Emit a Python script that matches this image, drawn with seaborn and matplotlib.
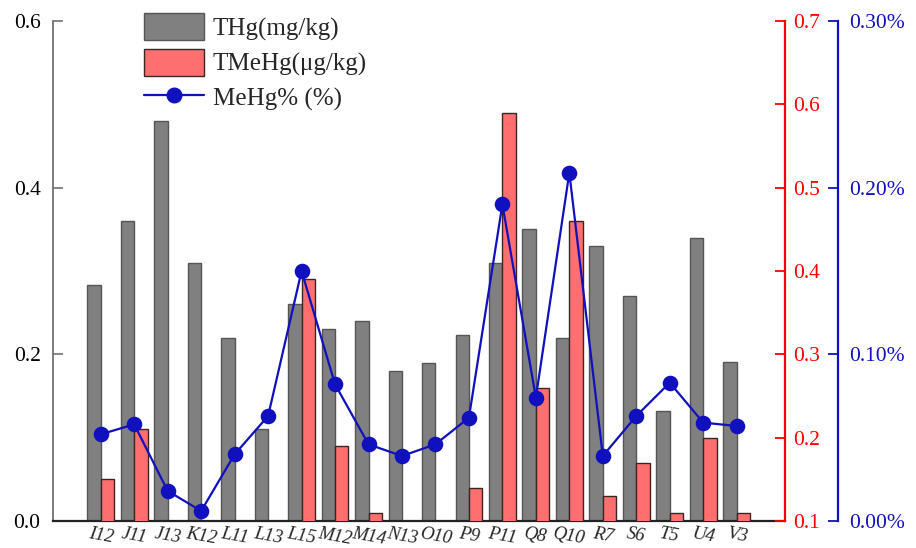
import numpy as np
import pandas as pd
import matplotlib
matplotlib.use("Agg")
import matplotlib.pyplot as plt
from matplotlib.patches import Patch
from matplotlib.lines import Line2D
import seaborn as sns

# Sampling sites
sites = ["I12", "J11", "J13", "K12", "L11", "L13", "L15", "M12", "M14", "N13",
         "O10", "P9", "P11", "Q8", "Q10", "R7", "S6", "T5", "U4", "V3"]
# Total mercury, mg/kg
thg = [0.283, 0.36, 0.48, 0.31, 0.22, 0.11, 0.26, 0.23, 0.24, 0.18,
       0.19, 0.223, 0.31, 0.35, 0.22, 0.33, 0.27, 0.132, 0.34, 0.191]
# Methylmercury, ug/kg (blank where below the axis floor)
tmehg = [0.15, 0.21, np.nan, np.nan, np.nan, np.nan, 0.39, 0.19, 0.11, np.nan,
         np.nan, 0.14, 0.59, 0.26, 0.46, 0.13, 0.17, 0.11, 0.20, 0.11]
# MeHg share of THg, %
mehg_pct = [0.052, 0.058, 0.018, 0.006, 0.040, 0.063, 0.150, 0.082, 0.046, 0.039,
            0.046, 0.062, 0.190, 0.074, 0.209, 0.039, 0.063, 0.083, 0.059, 0.057]

series_order = ["THg", "TMeHg"]
GREY = "#808080"
RED = "#FF6F6F"
BLUE = "#1010BE"

sns.set_theme(style="white")
plt.rcParams["font.family"] = ["Liberation Serif", "DejaVu Serif"]
plt.rcParams["mathtext.fontset"] = "stix"

df_thg = pd.DataFrame({"site": sites, "value": thg, "series": "THg"})
df_me = pd.DataFrame({"site": sites, "value": tmehg, "series": "TMeHg"}).dropna()
df_pct = pd.DataFrame({"site": sites, "value": mehg_pct})

fig = plt.figure(figsize=(9.16, 5.48), dpi=100)
ax1 = fig.add_axes([0.0579, 0.0493, 0.7991, 0.9124])
ax2 = ax1.twinx()
ax3 = ax1.twinx()

pal = {"THg": GREY, "TMeHg": RED}
sns.barplot(data=df_thg, x="site", y="value", hue="series", hue_order=series_order,
            order=sites, palette=pal, width=0.8, dodge=True, legend=False,
            edgecolor="#555555", linewidth=1.0, saturation=1, ax=ax1)
sns.barplot(data=df_me, x="site", y="value", hue="series", hue_order=series_order,
            order=sites, palette=pal, width=0.8, dodge=True, legend=False,
            edgecolor="#3f2424", linewidth=1.0, saturation=1, ax=ax2)
sns.pointplot(data=df_pct, x="site", y="value", order=sites, color=BLUE,
              markers="o", markersize=10, linewidth=1.6, ax=ax3)

xlim = (-1.426, 20.444)
for ax in (ax1, ax2, ax3):
    ax.set_xlim(*xlim)
    ax.set_xlabel("")
    ax.set_ylabel("")
    ax.grid(False)

# Left axis: THg
ax1.set_ylim(0, 0.6)
ax1.set_yticks([0.0, 0.2, 0.4, 0.6])
ax1.set_yticklabels(["0.0", "0.2", "0.4", "0.6"])
ax1.tick_params(axis="y", direction="in", length=7, width=1.1, color="#666666",
                labelsize=15.5, pad=9, left=True, labelcolor="black")
ax1.tick_params(axis="x", length=0, pad=3)
for lab in ax1.get_xticklabels():
    lab.set_fontstyle("italic")
    lab.set_fontsize(13.5)
    lab.set_rotation(-10)
    lab.set_ha("center")
ax1.spines["top"].set_visible(False)
ax1.spines["right"].set_visible(False)
ax1.spines["left"].set_color("#666666")
ax1.spines["left"].set_linewidth(1.2)
ax1.spines["bottom"].set_color("#222222")
ax1.spines["bottom"].set_linewidth(1.6)

# Right axis: TMeHg (red)
ax2.set_ylim(0.1, 0.7)
ax2.set_yticks([0.1, 0.2, 0.3, 0.4, 0.5, 0.6, 0.7])
ax2.set_yticklabels(["0.1", "0.2", "0.3", "0.4", "0.5", "0.6", "0.7"])
ax2.tick_params(axis="y", direction="in", length=7, width=1.3, color="red",
                labelcolor="red", labelsize=15.5, pad=6, right=True)
for s in ("top", "left", "bottom"):
    ax2.spines[s].set_visible(False)
ax2.spines["right"].set_color("red")
ax2.spines["right"].set_linewidth(1.6)

# Far-right axis: MeHg % (blue)
ax3.set_ylim(0, 0.30)
ax3.set_yticks([0.0, 0.10, 0.20, 0.30])
ax3.set_yticklabels(["0.00%", "0.10%", "0.20%", "0.30%"])
ax3.spines["right"].set_position(("axes", 1.0724))
ax3.tick_params(axis="y", direction="in", length=7, width=1.3, color=BLUE,
                labelcolor=BLUE, labelsize=15.5, pad=8, right=True)
for s in ("top", "left", "bottom"):
    ax3.spines[s].set_visible(False)
ax3.spines["right"].set_color(BLUE)
ax3.spines["right"].set_linewidth(1.6)

handles = [
    Patch(facecolor=GREY, edgecolor="#555555", linewidth=1.0, label="THg(mg/kg)"),
    Patch(facecolor=RED, edgecolor="#3f2424", linewidth=1.0, label="TMeHg(μg/kg)"),
    Line2D([0], [0], color=BLUE, marker="o", markersize=10.5, linewidth=1.6,
           label="MeHg% (%)"),
]
fig.legend(handles=handles, loc="upper left", bbox_to_anchor=(0.152, 0.985),
           frameon=False, fontsize=18, handlelength=2.4, handleheight=1.3,
           handletextpad=0.35, labelspacing=0.32, borderpad=0.2,
           borderaxespad=0)

fig.savefig("out.png", dpi=100)
